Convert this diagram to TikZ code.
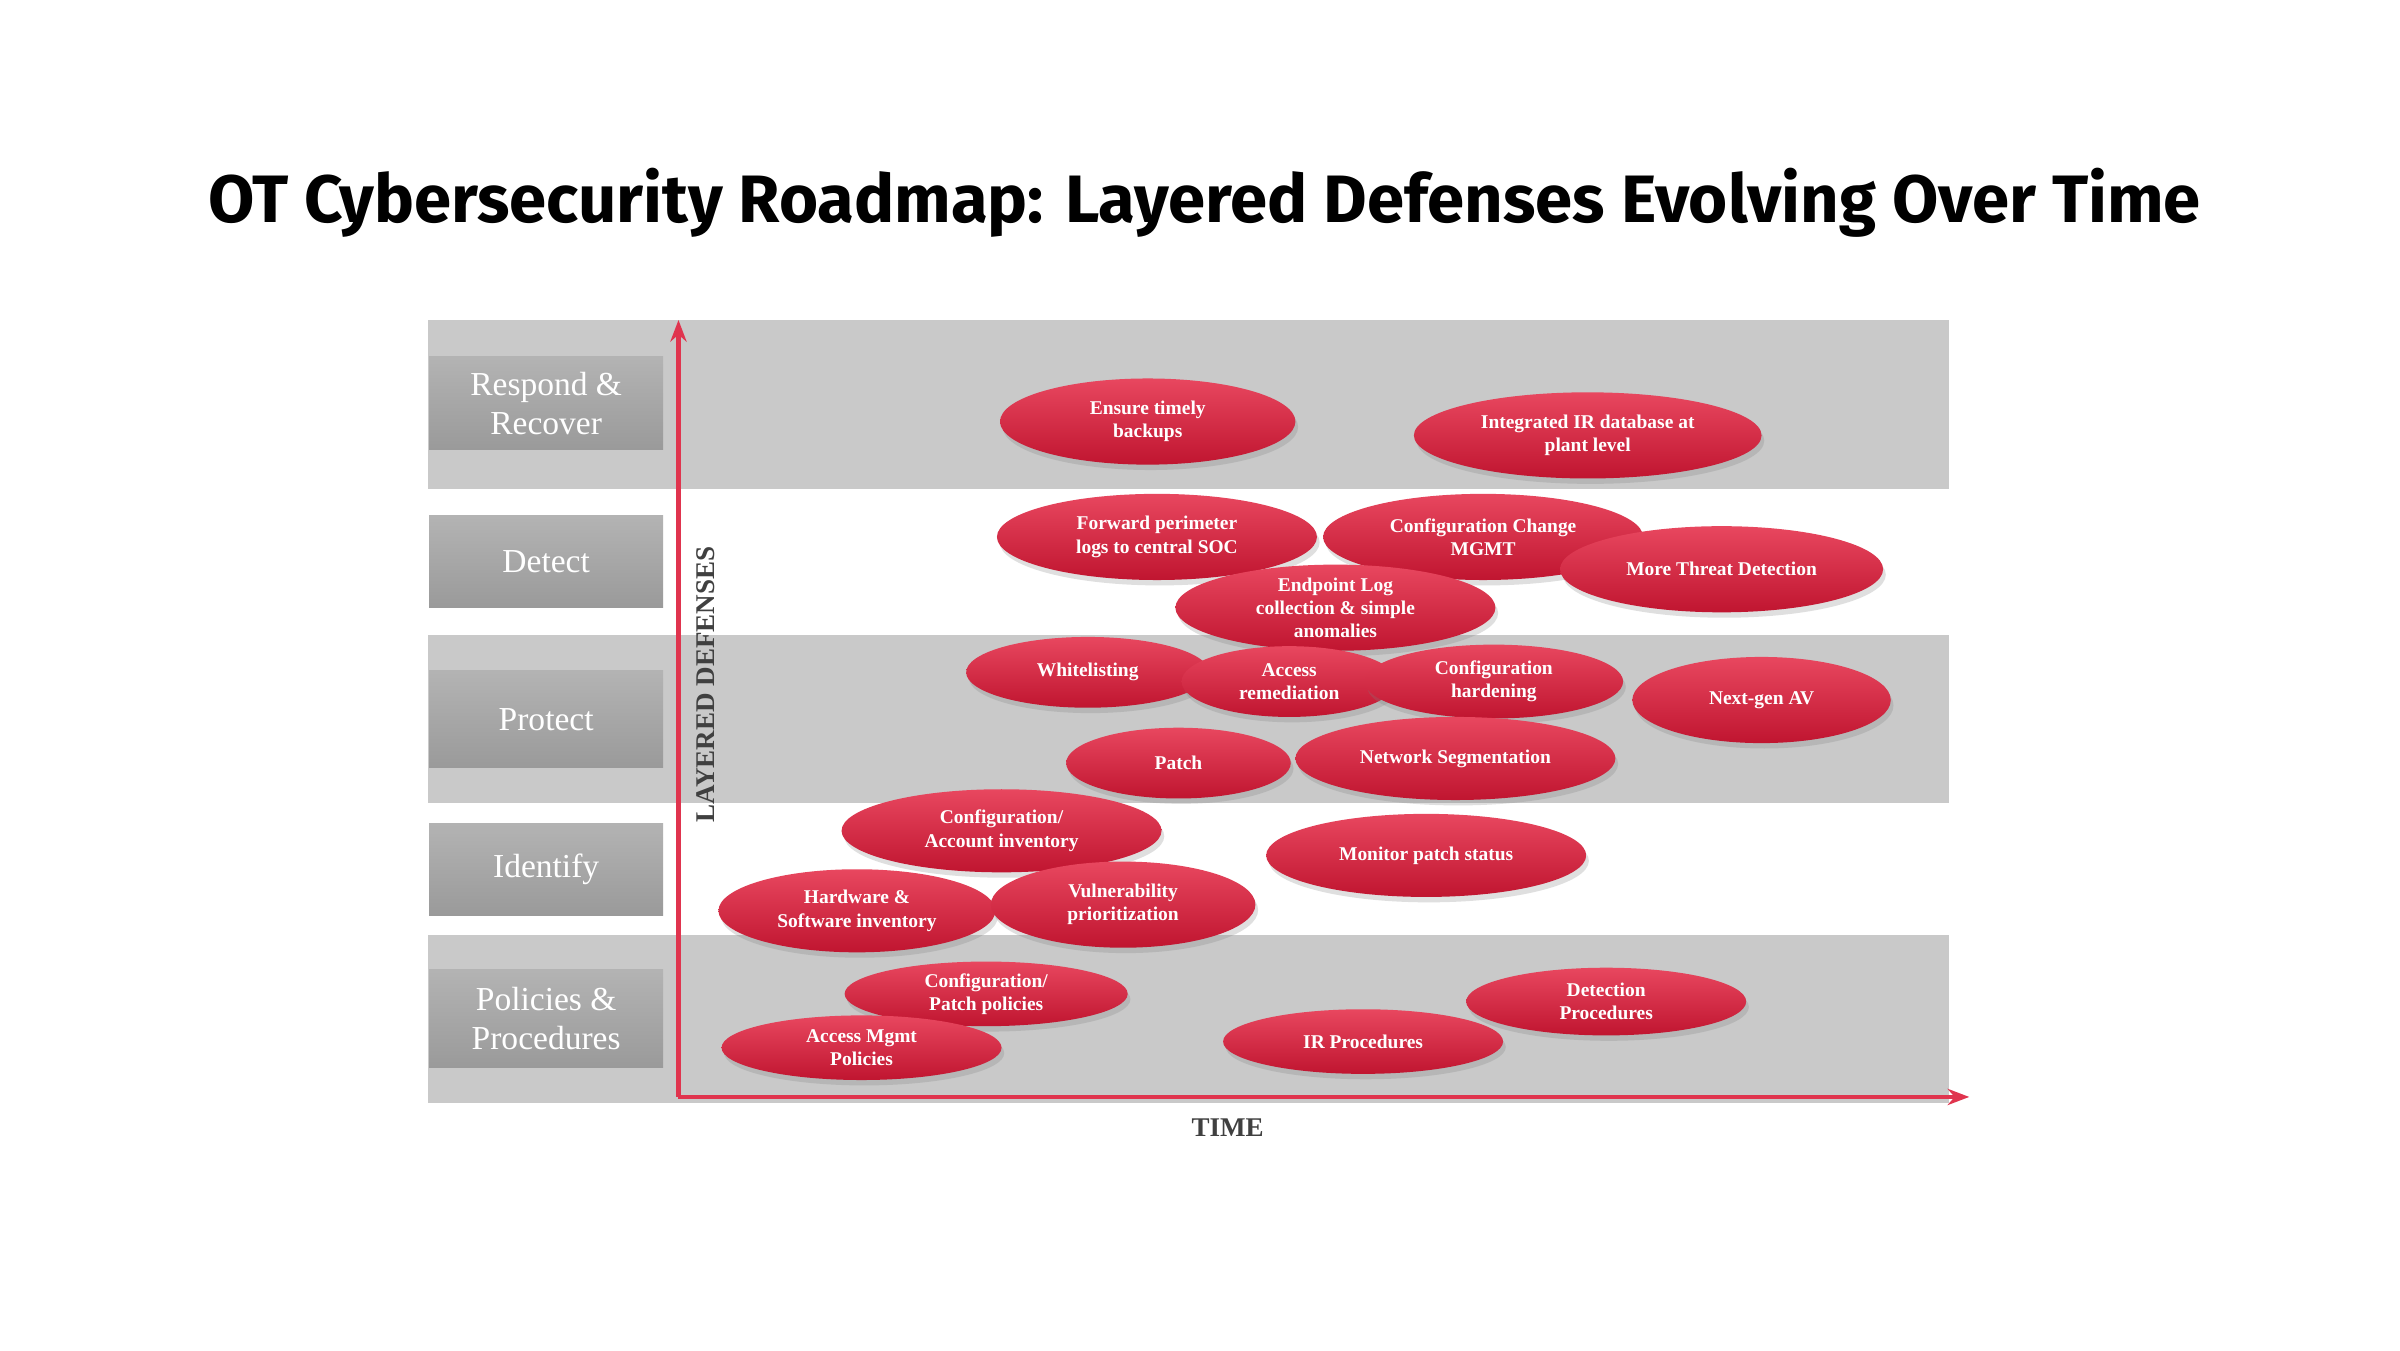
\documentclass[tikz,border=0pt]{standalone}
\usepackage{fontspec}
\setmainfont{Liberation Serif}
\newfontfamily\titlefont{Fira Sans}
\usetikzlibrary{shapes.geometric,shadows,arrows.meta}

\definecolor{bandgray}{HTML}{C9C9C9}
\definecolor{boxgray}{HTML}{9A9A9A}
\definecolor{axisred}{HTML}{E0344E}
\definecolor{pilltop}{HTML}{E8475F}
\definecolor{pillbot}{HTML}{C01530}

\tikzset{
  band/.style={fill=bandgray, draw=none},
  layerbox/.style={top color=boxgray!75, bottom color=boxgray, draw=none,
    minimum width=1.52cm, text=white, font=\fontsize{6.2}{7.2}\selectfont,
    align=center, inner sep=0pt},
  pill/.style={ellipse, top color=pilltop, bottom color=pillbot, draw=none,
    text=white, font=\bfseries\fontsize{3.6}{4.3}\selectfont, align=center,
    inner sep=0pt, drop shadow={opacity=0.25, shadow xshift=0.5pt, shadow yshift=-1pt}},
  axis/.style={axisred, line width=0.8pt, -{Stealth[length=4pt]}}
}

\begin{document}
\begin{tikzpicture}
	\useasboundingbox[fill=white] (0,0) rectangle (15.6,-8.775);
	\node[font=\titlefont\bfseries\fontsize{12.4}{14}\selectfont] (title) at (7.83,-1.32)
		{OT Cybersecurity Roadmap: Layered Defenses Evolving Over Time};

	% bands
	\fill[band] (2.78,-2.08) rectangle (12.67,-3.18);
	\fill[band] (2.78,-4.13) rectangle (12.67,-5.22);
	\fill[band] (2.78,-6.08) rectangle (12.67,-7.17);

	% layer labels
	\node[layerbox, minimum height=0.60cm] (respond) at (3.55,-2.62) {Respond \&\\Recover};
	\node[layerbox, minimum height=0.60cm] (detect)  at (3.55,-3.65) {Detect};
	\node[layerbox, minimum height=0.63cm] (protect) at (3.55,-4.675) {Protect};
	\node[layerbox, minimum height=0.60cm] (identify) at (3.55,-5.65) {Identify};
	\node[layerbox, minimum height=0.64cm] (policies) at (3.55,-6.62) {Policies \&\\Procedures};

	% axes
	\coordinate (origin) at (4.41,-7.13);
	\coordinate (ytop) at (4.41,-2.08);
	\coordinate (xend) at (12.80,-7.13);
	\draw[axis] (origin) -- (ytop);
	\draw[axis] (origin) -- (xend);
	\node[rotate=90, text=black!75, font=\bfseries\fontsize{5}{6}\selectfont] (ylab) at (4.59,-4.45) {LAYERED DEFENSES};
	\node[text=black!75, font=\bfseries\fontsize{5}{6}\selectfont] (xlab) at (7.98,-7.33) {TIME};

	% roadmap items
	\node[pill, minimum width=1.92cm, minimum height=0.56cm] (backups) at (7.46,-2.74) {Ensure timely\\backups};
	\node[pill, minimum width=2.26cm, minimum height=0.56cm] (irdb) at (10.32,-2.83) {Integrated IR database at\\plant level};
	\node[pill, minimum width=2.08cm, minimum height=0.56cm] (fwdlogs) at (7.52,-3.49) {Forward perimeter\\logs to central SOC};
	\node[pill, minimum width=2.08cm, minimum height=0.56cm] (cfgchange) at (9.64,-3.49) {Configuration Change\\MGMT};
	\node[pill, minimum width=2.10cm, minimum height=0.56cm] (morethreat) at (11.19,-3.70) {More Threat Detection};
	\node[pill, minimum width=2.08cm, minimum height=0.56cm] (endpoint) at (8.68,-3.95) {Endpoint Log\\collection \& simple\\anomalies};
	\node[pill, minimum width=1.58cm, minimum height=0.46cm] (whitelist) at (7.07,-4.37) {Whitelisting};
	\node[pill, minimum width=1.40cm, minimum height=0.46cm] (accrem) at (8.38,-4.43) {Access\\remediation};
	\node[pill, minimum width=1.68cm, minimum height=0.48cm] (cfghard) at (9.71,-4.43) {Configuration\\hardening};
	\node[pill, minimum width=1.68cm, minimum height=0.56cm] (nextgen) at (11.45,-4.55) {Next-gen AV};
	\node[pill, minimum width=1.46cm, minimum height=0.46cm] (patch) at (7.66,-4.96) {Patch};
	\node[pill, minimum width=2.08cm, minimum height=0.54cm] (netseg) at (9.46,-4.93) {Network Segmentation};
	\node[pill, minimum width=2.08cm, minimum height=0.54cm] (cfginv) at (6.51,-5.40) {Configuration/\\Account inventory};
	\node[pill, minimum width=2.08cm, minimum height=0.54cm] (monpatch) at (9.27,-5.56) {Monitor patch status};
	\node[pill, minimum width=1.80cm, minimum height=0.54cm] (hwsw) at (5.57,-5.92) {Hardware \&\\Software inventory};
	\node[pill, minimum width=1.72cm, minimum height=0.56cm] (vuln) at (7.30,-5.88) {Vulnerability\\prioritization};
	\node[pill, minimum width=1.84cm, minimum height=0.42cm] (cfgpol) at (6.41,-6.46) {Configuration/\\Patch policies};
	\node[pill, minimum width=1.82cm, minimum height=0.44cm] (detproc) at (10.44,-6.51) {Detection\\Procedures};
	\node[pill, minimum width=1.82cm, minimum height=0.42cm] (irproc) at (8.86,-6.77) {IR Procedures};
	\node[pill, minimum width=1.82cm, minimum height=0.42cm] (accmgmt) at (5.60,-6.81) {Access Mgmt\\Policies};
\end{tikzpicture}
\end{document}
